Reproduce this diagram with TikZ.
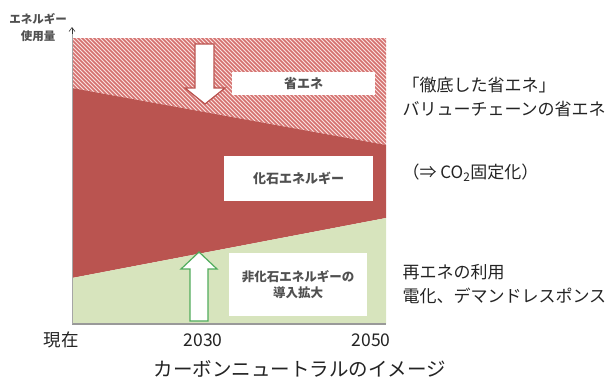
\documentclass[tikz,border=0pt]{standalone}
\usepackage{fontspec}
\setmainfont{Noto Sans CJK JP}
\usetikzlibrary{arrows.meta}
\definecolor{fossil}{RGB}{186,84,80}
\definecolor{hatchred}{RGB}{212,112,110}
\definecolor{hatchbg}{RGB}{250,228,226}
\definecolor{renew}{RGB}{215,228,189}
\definecolor{arrgreen}{RGB}{80,172,92}
\definecolor{txt}{RGB}{35,35,35}
\definecolor{boxtxt}{RGB}{80,80,80}
\tikzset{
  wbox/.style={fill=white, draw=none, inner sep=0pt},
  boxlabel/.style={text=boxtxt, font=\fontsize{13}{15}\selectfont\bfseries, align=center},
  sidelabel/.style={text=txt, font=\fontsize{17}{24}\selectfont, anchor=west, align=left},
  axislabel/.style={text=txt, font=\fontsize{17.5}{20}\selectfont},
  axisline/.style={draw=gray!80, line width=1.2pt},
}
\begin{document}
\begin{tikzpicture}[x=1pt,y=-1pt]
\useasboundingbox (0,0) rectangle (608,381);
% hatched region
\fill[hatchbg] (72,38) -- (386,38) -- (386,145) -- (72,88) -- cycle;
\begin{scope}
\clip (72,38) -- (386,38) -- (386,145) -- (72,88) -- cycle;
\foreach \i in {0,4,...,440} {
  \draw[hatchred, line width=1.5pt] (72-120+\i,38-2) -- ++(130,130);
}
\end{scope}
% fossil region
\fill[fossil] (72,88) -- (386,145) -- (386,218) -- (72,278) -- cycle;
% renewable region
\fill[renew] (72,278) -- (386,218) -- (386,324) -- (72,324) -- cycle;
% axes
\coordinate (origin) at (72,324);
\coordinate (ytop) at (72,27);
\coordinate (xend) at (386,324);
\draw[axisline] (origin) -- (xend);
\draw[draw=gray!70, line width=1pt] (origin) -- (72,32);
\draw[draw=black!80, line width=0.6pt, -{Straight Barb[length=4pt,width=6pt]}] (72,34) -- (ytop);
% down arrow (energy saving)
\draw[draw=fossil, fill=white, line width=1.2pt]
  (195,44) -- (214,44) -- (214,88) -- (225,88) -- (205,104) -- (185,88) -- (195,88) -- cycle;
% up arrow (non-fossil)
\draw[draw=arrgreen, fill=white, line width=1.2pt]
  (190,321) -- (208,321) -- (208,269) -- (217,269) -- (199,252) -- (181,269) -- (190,269) -- cycle;
% boxes
\node[wbox, minimum width=143pt, minimum height=23pt] (save) at (303.5,83.5) {};
\node[boxlabel] at (save) {省エネ};
\node[wbox, minimum width=149pt, minimum height=45pt] (fossilbox) at (298.5,178.5) {};
\node[boxlabel] at (fossilbox) {化石エネルギー};
\node[wbox, minimum width=138pt, minimum height=63pt] (nonfossil) at (298,284.5) {};
\node[boxlabel, font=\fontsize{12.5}{16}\selectfont\bfseries] at (nonfossil) {非化石エネルギーの\\導入拡大};
% y-axis label
\node[text=boxtxt, font=\fontsize{11.5}{17}\selectfont\bfseries, align=center] (ylab) at (38,28) {エネルギー\\使用量};
% x-axis labels
\node[axislabel] (now) at (61,340) {現在};
\node[axislabel] (y2030) at (203,340) {2030};
\node[axislabel] (y2050) at (371,340) {2050};
% side labels
\node[sidelabel] (s1) at (399,97) {「徹底した省エネ」\\バリューチェーンの省エネ};
\node[sidelabel] (s2) at (399,173) {（⇒ CO\textsubscript{2}固定化）};
\node[sidelabel] (s3) at (399,284) {再エネの利用\\電化、デマンドレスポンス};
% title
\node[text=txt, font=\fontsize{19.5}{22}\selectfont] (title) at (300,369) {カーボンニュートラルのイメージ};
\end{tikzpicture}
\end{document}
